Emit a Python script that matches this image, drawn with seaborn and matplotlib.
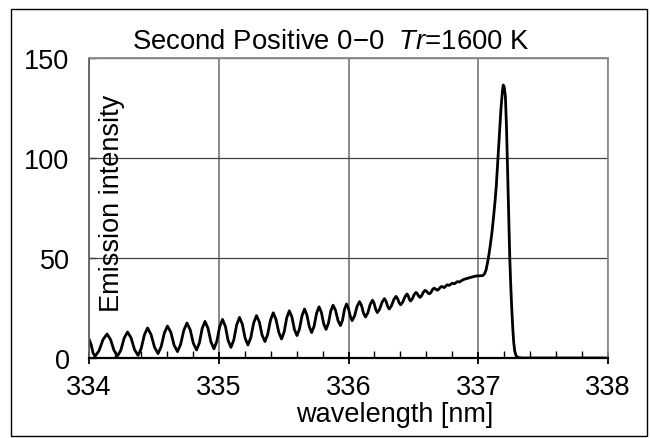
import matplotlib
matplotlib.use("Agg")
import matplotlib.pyplot as plt
from matplotlib.ticker import MultipleLocator
from matplotlib.patches import Rectangle
import pandas as pd
import seaborn as sns

# ---- data ----
wavelength = [
    334.000, 334.016, 334.031, 334.046, 334.077, 334.108, 334.139, 334.166, 334.193, 334.220,
    334.246, 334.271, 334.297, 334.324, 334.351, 334.378, 334.402, 334.427, 334.451, 334.478,
    334.505, 334.532, 334.556, 334.581, 334.605, 334.631, 334.656, 334.682, 334.706, 334.731,
    334.755, 334.780, 334.804, 334.829, 334.851, 334.872, 334.894, 334.917, 334.940, 334.963,
    334.985, 335.007, 335.029, 335.051, 335.072, 335.094, 335.116, 335.138, 335.160, 335.182,
    335.203, 335.225, 335.247, 335.269, 335.291, 335.313, 335.334, 335.356, 335.377, 335.399,
    335.420, 335.441, 335.463, 335.484, 335.504, 335.524, 335.544, 335.564, 335.583, 335.603,
    335.622, 335.642, 335.661, 335.679, 335.698, 335.716, 335.735, 335.754, 335.773, 335.791,
    335.809, 335.827, 335.845, 335.863, 335.881, 335.900, 335.919, 335.938, 335.954, 335.969,
    335.985, 335.999, 336.014, 336.028, 336.047, 336.066, 336.085, 336.100, 336.116, 336.131,
    336.149, 336.167, 336.185, 336.197, 336.210, 336.222, 336.240, 336.259, 336.277, 336.289,
    336.302, 336.314, 336.331, 336.349, 336.366, 336.378, 336.390, 336.402, 336.418, 336.435,
    336.451, 336.460, 336.469, 336.478, 336.492, 336.506, 336.520, 336.530, 336.541, 336.551,
    336.564, 336.577, 336.590, 336.601, 336.613, 336.624, 336.636, 336.647, 336.659, 336.668,
    336.677, 336.686, 336.696, 336.707, 336.717, 336.738, 336.760, 336.775, 336.800, 336.815,
    336.840, 336.855, 336.885, 336.936, 336.983, 337.034, 337.048, 337.060, 337.071, 337.083,
    337.094, 337.106, 337.118, 337.129, 337.139, 337.147, 337.155, 337.162, 337.169, 337.175,
    337.182, 337.187, 337.193, 337.200, 337.209, 337.218, 337.225, 337.232, 337.237, 337.243,
    337.250, 337.258, 337.266, 337.273, 337.281, 337.291, 337.306, 337.337, 338.000,
]
intensity = [
    9.5, 6.8, 2.6, 0.8, 3.6, 9.2, 12.0, 9.25, 3.75, 1.0,
    4.0, 10.0, 13.0, 10.1, 4.2, 1.3, 4.7, 11.6, 15.0, 11.8,
    5.4, 2.2, 5.65, 12.55, 16.0, 12.8, 6.4, 3.2, 6.8, 13.9,
    17.5, 14.1, 7.4, 4.0, 7.6, 14.7, 18.3, 14.9, 8.0, 4.6,
    8.3, 15.6, 19.3, 15.8, 8.8, 5.3, 9.05, 16.55, 20.3, 16.85,
    9.95, 6.5, 10.2, 17.5, 21.2, 17.95, 11.45, 8.2, 11.8, 19.0,
    22.6, 19.3, 12.8, 9.5, 13.0, 20.1, 23.6, 20.5, 14.3, 11.2,
    14.5, 21.2, 24.5, 21.55, 15.65, 12.7, 15.9, 22.4, 25.6, 22.8,
    17.1, 14.3, 17.3, 23.4, 26.4, 23.85, 18.75, 16.2, 18.9, 24.3,
    27.0, 24.9, 20.8, 18.7, 21.1, 25.8, 28.2, 26.3, 22.4, 20.5,
    22.6, 26.8, 28.9, 27.35, 24.25, 22.7, 24.45, 27.95, 29.7, 28.4,
    25.8, 24.5, 26.1, 29.2, 30.8, 29.75, 27.65, 26.6, 27.95, 30.65,
    32.0, 31.1, 29.4, 28.5, 29.6, 31.7, 32.8, 32.2, 30.9, 30.3,
    31.2, 32.9, 33.8, 33.4, 32.5, 32.1, 32.8, 34.2, 34.9, 34.65,
    34.15, 33.9, 34.4, 35.3, 35.8, 35.2, 36.6, 36.3, 37.4, 37.1,
    38.2, 38.0, 39.2, 40.2, 41.0, 41.2, 42.0, 44.0, 47.5, 52.0,
    57.0, 63.0, 70.5, 78.0, 86.0, 94.5, 103.0, 111.0, 118.0, 124.5,
    130.0, 134.0, 136.5, 135.5, 131.0, 115.0, 97.0, 80.0, 64.0, 50.0,
    37.0, 25.0, 15.0, 8.0, 3.5, 1.2, 0.3, 0.0, 0.0,
]
x_ticks = [334, 335, 336, 337, 338]
y_ticks = [0, 50, 100, 150]
title_text = r"Second Positive 0$-$0  $\mathit{Tr}$=1600 K"
x_label = "wavelength [nm]"
y_label = "Emission intensity"

assert len(wavelength) == len(intensity), (len(wavelength), len(intensity))

sns.set_style("white")
plt.rcParams["font.family"] = ["Liberation Sans", "DejaVu Sans"]
plt.rcParams["mathtext.fontset"] = "custom"
plt.rcParams["mathtext.rm"] = "Liberation Sans"
plt.rcParams["mathtext.it"] = "Liberation Sans:italic"
plt.rcParams["text.color"] = "black"
plt.rcParams["axes.labelcolor"] = "black"
plt.rcParams["xtick.color"] = "black"
plt.rcParams["ytick.color"] = "black"

fig = plt.figure(figsize=(6.5, 4.39), dpi=100)
ax = fig.add_axes([89 / 650, 1 - 359 / 439, 519 / 650, 300 / 439])

df = pd.DataFrame({"wavelength": wavelength, "intensity": intensity})
sns.lineplot(data=df, x="wavelength", y="intensity", ax=ax, color="black",
             linewidth=2.0, sort=False, estimator=None)

ax.set_xlim(334, 338)
ax.set_ylim(0, 150)
ax.set_xticks(x_ticks)
ax.set_yticks(y_ticks)
ax.xaxis.set_minor_locator(MultipleLocator(0.2))

ax.set_axisbelow(True)
ax.xaxis.grid(True, which="major", color="#808080", linewidth=1.3)
ax.yaxis.grid(True, which="major", color="#404040", linewidth=0.9)

for side, col in [("top", "#8a8a8a"), ("right", "#8a8a8a"), ("left", "#606060"), ("bottom", "black")]:
    ax.spines[side].set_visible(True)
    ax.spines[side].set_color(col)
    ax.spines[side].set_linewidth(1.3 if side != "bottom" else 1.6)

ax.tick_params(axis="x", which="major", direction="inout", length=9, width=1.3,
               color="black", labelcolor="black", labelsize=19.5, pad=7, bottom=True)
ax.tick_params(axis="x", which="minor", direction="in", length=5, width=1.0,
               color="black", bottom=True)
ax.tick_params(axis="y", which="major", direction="in", length=5, width=1.0,
               color="#404040", labelcolor="black", labelsize=19.5, pad=14, left=True)

ax.set_xlabel(x_label, fontsize=19.5, color="black")
ax.set_ylabel(y_label, fontsize=19.5, color="black")
ax.xaxis.set_label_coords(0.588, -0.188)
ax.xaxis.label.set_verticalalignment("center")
ax.yaxis.set_label_coords(0.044, 0.52)
ax.yaxis.label.set_verticalalignment("center")

ax.text(0.466, 1.015, title_text, transform=ax.transAxes, ha="center", va="bottom",
        fontsize=19.8, color="black")

fig.patches.append(Rectangle((10.5 / 650, 2.5 / 439), 636.5 / 650, 426.5 / 439,
                             transform=fig.transFigure, fill=False,
                             edgecolor="black", linewidth=1.0))

fig.savefig("out.png", dpi=100)
